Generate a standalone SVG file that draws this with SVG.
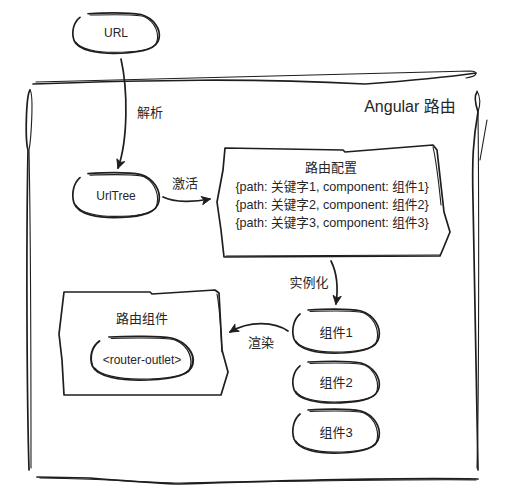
<svg xmlns="http://www.w3.org/2000/svg" xmlns:xlink="http://www.w3.org/1999/xlink" width="510" height="504" viewBox="0 0 510 504">
<style>
.s{fill:none;stroke:#1e1e1e;stroke-width:1.7;stroke-linecap:round;stroke-linejoin:round}
.s2{fill:none;stroke:#1e1e1e;stroke-width:1.1;stroke-linecap:round;stroke-linejoin:round}
.t{font-family:"Liberation Sans","Noto Sans CJK SC",sans-serif;fill:#262626;text-anchor:middle;dominant-baseline:central}
.f12{font-size:12px}.f125{font-size:12.6px}.f13{font-size:13px}.f16{font-size:16px}
</style>
<defs>
<g id="blob">
<path class="s" d="M -28 -21 C -10 -22 15 -22 25 -20 C 38 -16 45 -4 43 6 C 41 17 28 21 5 22 C -18 23 -38 19 -42 8 C -45 -2 -42 -12 -36 -17"/>
<path class="s2" d="M -26 -19.5 C -5 -20 18 -21 28 -18 C 40 -12 44 2 40 12 C 35 19 20 21 -2 21 C -20 21 -36 17 -40 10"/>
</g>
<marker id="ah" viewBox="0 0 12 12" refX="10" refY="6" markerWidth="11" markerHeight="11" markerUnits="userSpaceOnUse" orient="auto">
<path d="M 1 1.5 L 10.5 6 L 1 10.5 L 3.5 6 Z" fill="#1e1e1e" stroke="#1e1e1e" stroke-width="1" stroke-linejoin="round"/>
</marker>
</defs>
<rect width="510" height="504" fill="#fff"/>

<g id="frame">
<path class="s" d="M 33 84 C 150 80 250 78 365 84 C 420 80 455 76 476 73"/>
<path class="s2" d="M 36 82 C 160 78 300 76 470 71 C 478 71 479 76 466 78"/>
<path class="s" d="M 30 90 C 26 96 25 140 28 150 C 26 250 27 400 29 470"/>
<path class="s2" d="M 30 90 C 34 95 31 140 29 150 C 31 250 31 400 31 468"/>
<path class="s" d="M 37 477 L 90 478 C 140 482 170 484 180 484 C 300 480 420 478 478 479"/>
<path class="s2" d="M 40 478 C 120 479 150 483 175 483 C 300 481 420 479 476 480"/>
<path class="s" d="M 477 92 C 474 96 476 106 478 112 C 473 140 472 160 473 200 L 478 470"/>
<path class="s2" d="M 477 91 C 481 98 480 106 478 112 C 479 200 479 400 477 468"/>
<path class="s2" d="M 487 120 L 480 160"/>
<text class="t f16" x="410" y="106">Angular 路由</text>
</g>

<g id="connectors">
<path class="s" d="M 121 59 C 128 90 128 140 118 168" marker-end="url(#ah)"/>
<path class="s" d="M 163 197 C 175 203 195 202 210 199" marker-end="url(#ah)"/>
<path class="s" d="M 331 261 C 338 275 338 290 336 304" marker-end="url(#ah)"/>
<path class="s" d="M 288 331 C 275 322 250 320 230 332" marker-end="url(#ah)"/>
<text class="t f13" x="150" y="112">解析</text>
<text class="t f13" x="185" y="183">激活</text>
<text class="t f13" x="309" y="282">实例化</text>
<text class="t f13" x="261" y="342">渲染</text>
</g>

<g id="url">
<use xlink:href="#blob" href="#blob" transform="translate(116,33) scale(1,0.92)"/>
<text class="t f12" x="116" y="33">URL</text>
</g>

<g id="urltree">
<use xlink:href="#blob" href="#blob" transform="translate(116,195) scale(1,1.02)"/>
<text class="t f12" x="116" y="196">UrlTree</text>
</g>

<g id="route-config">
<path class="s" d="M 225 148 L 343 150 L 345 152 L 433 145 L 437 150 L 444 212 L 450 232 L 443 249 L 440 256 L 224 257 L 221 230 L 217 202 L 223 170 Z"/>
<path class="s2" d="M 433 147 C 436 160 438 175 441 205"/>
<path class="s2" d="M 226 256 L 440 255"/>
<text class="t f13" x="331" y="167">路由配置</text>
<text class="t f125" x="332" y="187">{path: 关键字1, component: 组件1}</text>
<text class="t f125" x="332" y="205">{path: 关键字2, component: 组件2}</text>
<text class="t f125" x="332" y="223">{path: 关键字3, component: 组件3}</text>
</g>

<g id="route-component">
<path class="s" d="M 64 292 L 150 292 L 152 294 L 215 290 L 219 293 L 222 350 L 228 372 L 221 395 L 64 395 L 62 360 L 59 334 L 64 292 Z"/>
<path class="s2" d="M 217 294 C 220 310 221 330 222 352"/>
<text class="t f13" x="142" y="318">路由组件</text>
</g>

<g id="router-outlet">
<use xlink:href="#blob" href="#blob" transform="translate(142,358) scale(1.18,1.0)"/>
<text class="t f12" x="142" y="360">&lt;router-outlet&gt;</text>
</g>

<g id="comp1">
<use xlink:href="#blob" href="#blob" transform="translate(336,331)"/>
<text class="t f13" x="336" y="332">组件1</text>
</g>
<g id="comp2">
<use xlink:href="#blob" href="#blob" transform="translate(336,382) scale(1,0.95)"/>
<text class="t f13" x="336" y="382">组件2</text>
</g>
<g id="comp3">
<use xlink:href="#blob" href="#blob" transform="translate(336,431)"/>
<text class="t f13" x="336" y="432">组件3</text>
</g>
</svg>
